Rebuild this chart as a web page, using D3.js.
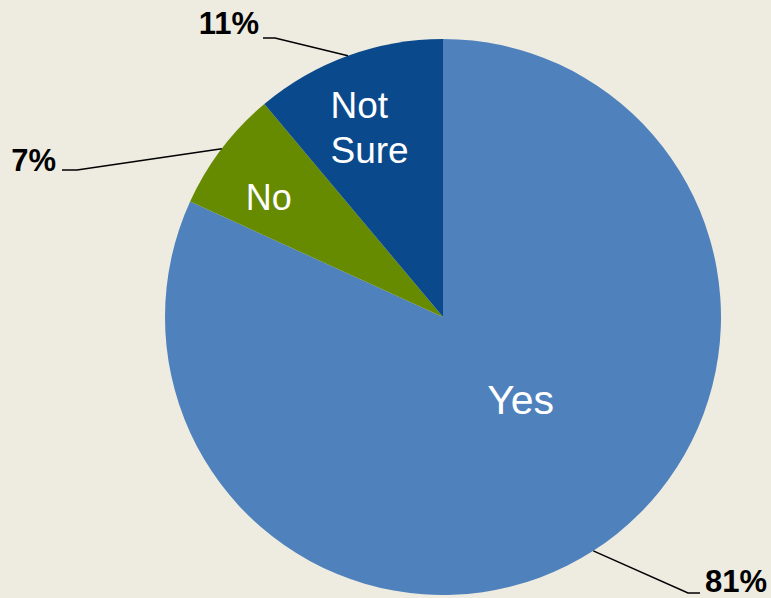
<!DOCTYPE html>
<html>
<head>
<meta charset="utf-8">
<script src="https://cdn.jsdelivr.net/npm/d3@7"></script>
<style>
  html, body { margin: 0; padding: 0; background: #EEEBE1; }
  svg { display: block; }
</style>
</head>
<body>
<svg id="chart" width="771" height="598"></svg>
<script>
// Survey answers and their shares (percent)
const categories = ["Yes", "No", "Not Sure"];
const shares = [81, 7, 11];
const percentLabels = ["81%", "7%", "11%"];
const innerLabels = [["Yes"], ["No"], ["Not", "Sure"]];
const colors = ["#4F81BD", "#668A00", "#0A4A8C"];

const width = 771, height = 598;
const cx = 443, cy = 317, radius = 278;

const svg = d3.select("#chart");
const g = svg.append("g").attr("transform", `translate(${cx},${cy})`);

const data = categories.map((c, i) => ({ name: c, value: shares[i], pct: percentLabels[i], lines: innerLabels[i], color: colors[i] }));

const pie = d3.pie().sort(null).value(d => d.value);
const arcs = pie(data);
const arc = d3.arc().innerRadius(0).outerRadius(radius);

g.selectAll("path.slice")
  .data(arcs)
  .join("path")
  .attr("class", "slice")
  .attr("d", arc)
  .attr("fill", d => d.data.color);

// Point on the rim at a given angle (d3 angle convention: 0 at 12 o'clock, clockwise)
const rim = (a, r) => [Math.sin(a) * r, -Math.cos(a) * r];

// Inner category labels: placement radius, nudges and type size per slice
const innerPlace = {
  "Yes": { r: 0.45, dx: 10, dy: -23, size: 41, lh: 45, anchor: "middle" },
  "No": { r: 0.62, dx: -37, dy: -16, size: 36, lh: 45, anchor: "middle" },
  "Not Sure": { r: 0.70, dx: -46, dy: -7, size: 37, lh: 45, anchor: "start" }
};

// Percentage call-outs outside the pie: elbow, line end and text anchor
const outerPlace = {
  "Yes": { elbow: [688 - cx, 593 - cy], end: [700 - cx, 593 - cy], text: [705 - cx, 592 - cy], anchor: "start" },
  "No": { elbow: [77 - cx, 170 - cy], end: [62 - cx, 170 - cy], text: [56 - cx, 171 - cy], anchor: "end" },
  "Not Sure": { elbow: [275 - cx, 38 - cy], end: [263 - cx, 38 - cy], text: [259 - cx, 34 - cy], anchor: "end" }
};

arcs.forEach(a => {
  const mid = (a.startAngle + a.endAngle) / 2;
  const p = innerPlace[a.data.name];
  const [x, y] = rim(mid, radius * p.r);
  const n = a.data.lines.length;
  const t = g.append("text")
    .attr("fill", "#ffffff")
    .attr("font-family", "Liberation Sans, Arial, sans-serif")
    .attr("font-size", p.size)
    .attr("text-anchor", p.anchor);
  a.data.lines.forEach((line, i) => {
    t.append("tspan")
      .attr("x", x + p.dx)
      .attr("y", y + p.dy + (i - (n - 1) / 2) * p.lh + p.size * 0.36)
      .text(line);
  });

  const o = outerPlace[a.data.name];
  const start = rim(mid, radius);
  g.append("polyline")
    .attr("points", [start, o.elbow, o.end].map(q => q.join(",")).join(" "))
    .attr("fill", "none")
    .attr("stroke", "#000")
    .attr("stroke-width", 1.5);
  g.append("text")
    .attr("x", o.text[0])
    .attr("y", o.text[1])
    .attr("text-anchor", o.anchor)
    .attr("font-family", "Liberation Sans, Arial, sans-serif")
    .attr("font-weight", "bold")
    .attr("font-size", 31)
    .attr("fill", "#000")
    .text(a.data.pct);
});
</script>
</body>
</html>
